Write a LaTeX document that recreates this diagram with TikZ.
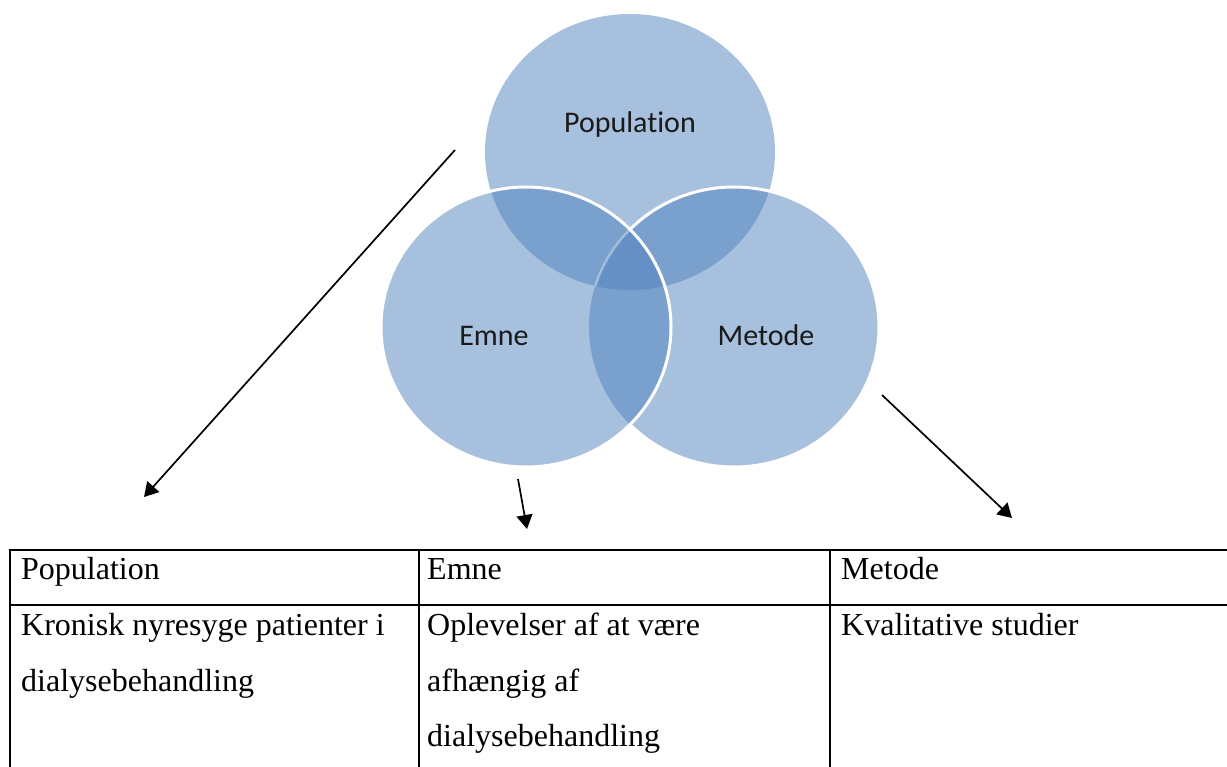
\documentclass[tikz,border=0pt]{standalone}
\usepackage{fontspec}
\setmainfont{Liberation Serif}
\newfontfamily\labelfont[Ligatures=NoCommon]{Carlito}
\usetikzlibrary{arrows.meta}

\definecolor{vennblue}{HTML}{4F81BD}
\definecolor{labelink}{HTML}{1A1A1A}

\tikzset{
  venn/.style={fill=vennblue, fill opacity=0.5, draw=none},
  rim/.style={draw=white, line width=3pt},
  vennlabel/.style={font=\labelfont\fontsize{30}{36}\selectfont, text=labelink, inner sep=0pt, anchor=base},
  cell/.style={font=\fontsize{32}{38}\selectfont, inner sep=0pt, anchor=base west},
  gridline/.style={line width=2.3pt, draw=black},
  pointer/.style={line width=1.7pt, draw=black, -{Triangle[length=14pt,width=16pt]}},
}

\begin{document}
\begin{tikzpicture}[x=1pt,y=-1pt]
\useasboundingbox (0,0) rectangle (1227,767);

% circle centres
\coordinate (popc) at (630,152);
\coordinate (emnec) at (526,327);
\coordinate (metc) at (734,327);

% translucent discs of the Venn diagram
\fill[venn] (popc) ellipse [x radius=145pt, y radius=138pt];
\fill[venn] (metc) ellipse [x radius=145pt, y radius=140pt];
\fill[venn] (emnec) ellipse [x radius=145pt, y radius=140pt];

% faint rim of "Metode" inside the triple overlap
\begin{scope}
  \clip (popc) ellipse [x radius=145pt, y radius=138pt];
  \clip (emnec) ellipse [x radius=145pt, y radius=140pt];
  \draw[draw=white, draw opacity=0.35, line width=2.5pt] (metc) ellipse [x radius=145pt, y radius=140pt];
\end{scope}

% white rim of "Metode", hidden where "Emne" lies above it
\begin{scope}[even odd rule]
  \clip (0,0) rectangle (1227,767) (emnec) ellipse [x radius=145pt, y radius=140pt];
  \draw[rim] (metc) ellipse [x radius=145pt, y radius=140pt];
\end{scope}

% white rim of "Emne" on top
\draw[rim] (emnec) ellipse [x radius=145pt, y radius=140pt];

% circle labels
\node[vennlabel] (lpop) at (630,133) {Population};
\node[vennlabel] (lemne) at (494,346) {Emne};
\node[vennlabel] (lmet) at (766,346) {Metode};

% arrows from the diagram down to the table
\coordinate (a1s) at (455,150);
\coordinate (a1e) at (144,497);
\coordinate (a2s) at (518,479);
\coordinate (a2e) at (527,529);
\coordinate (a3s) at (882,395);
\coordinate (a3e) at (1012,518);
\draw[pointer] (a1s) -- (a1e);
\draw[pointer] (a2s) -- (a2e);
\draw[pointer] (a3s) -- (a3e);

% table rules
\draw[gridline] (10,767) -- (10,550) -- (1227,550);
\draw[gridline] (10,605) -- (1227,605);
\draw[gridline] (419,550) -- (419,767);
\draw[gridline] (830,550) -- (830,767);

% table header
\node[cell] (h1) at (21,579) {Population};
\node[cell] (h2) at (427,579) {Emne};
\node[cell] (h3) at (841,579) {Metode};

% table body
\node[cell] (c1a) at (21,635) {Kronisk nyresyge patienter i};
\node[cell] (c1b) at (21,691) {dialysebehandling};
\node[cell] (c2a) at (427,635) {Oplevelser af at være};
\node[cell] (c2b) at (427,691) {afhængig af};
\node[cell] (c2c) at (427,746) {dialysebehandling};
\node[cell] (c3a) at (841,635) {Kvalitative studier};
\end{tikzpicture}
\end{document}
